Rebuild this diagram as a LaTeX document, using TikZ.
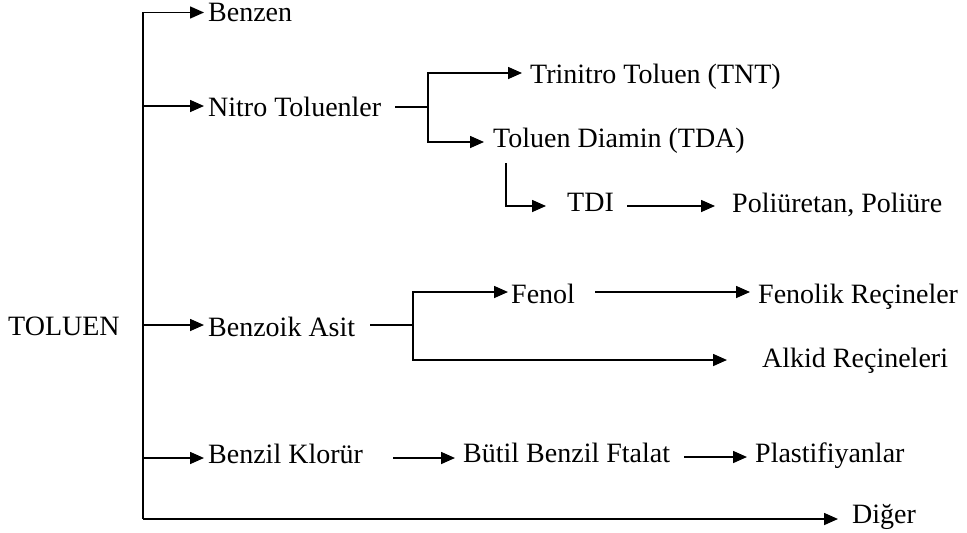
\documentclass[tikz,border=0pt]{standalone}
\usepackage{fontspec}
\setmainfont{Liberation Serif}
\usetikzlibrary{arrows.meta}
\begin{document}
\begin{tikzpicture}[x=1pt,y=-1pt,
  lbl/.style={anchor=base west, inner sep=0pt, font=\fontsize{28}{32}\selectfont},
  conn/.style={line width=1.6pt, black},
  arr/.style={conn, -{Triangle[length=14pt,width=12pt]}}]
\useasboundingbox (0,0) rectangle (967,533);

% labels
\node[lbl] (toluen)  at (8,335)   {TOLUEN};
\node[lbl] (benzen)  at (208,21)  {Benzen};
\node[lbl] (nitro)   at (208,116) {Nitro Toluenler};
\node[lbl] (tnt)     at (530,83)  {Trinitro Toluen (TNT)};
\node[lbl] (tda)     at (493,147) {Toluen Diamin (TDA)};
\node[lbl] (tdi)     at (567,211) {TDI};
\node[lbl] (poli)    at (732,212) {Poliüretan, Poliüre};
\node[lbl] (benzoik) at (208,336) {Benzoik Asit};
\node[lbl] (fenol)   at (511,303) {Fenol};
\node[lbl] (fenolik) at (758,303) {Fenolik Reçineler};
\node[lbl] (alkid)   at (762,367) {Alkid Reçineleri};
\node[lbl] (benzil)  at (208,463) {Benzil Klorür};
\node[lbl] (butil)   at (463,462) {Bütil Benzil Ftalat};
\node[lbl] (plast)   at (755,462) {Plastifiyanlar};
\node[lbl] (diger)   at (852,523) {Diğer};

% junctions
\coordinate (trunkTop) at (143,12.5);
\coordinate (trunkBot) at (143,519);
\coordinate (nitroSplit) at (428,107);
\coordinate (benzSplit) at (413,325);

% main trunk from TOLUEN
\draw[arr] (trunkBot) -- (trunkTop) -- (204,12.5);
\draw[arr] (trunkBot) -- (838,519);
\draw[arr] (trunkTop |- 0,106) -- (204,106);
\draw[arr] (trunkTop |- 0,325) -- (204,325);
\draw[arr] (trunkTop |- 0,458) -- (204,458);

% nitro toluenler branch
\draw[conn] (395,107) -- (nitroSplit);
\draw[arr] (nitroSplit) |- (522,73);
\draw[arr] (nitroSplit) |- (484,142);
\draw[arr] (506,163) |- (546,206);
\draw[arr] (627,206) -- (715,206);

% benzoik asit branch
\draw[conn] (370,325) -- (benzSplit);
\draw[arr] (benzSplit) |- (508,292);
\draw[arr] (benzSplit) |- (727,360);
\draw[arr] (595,292) -- (750,292);

% benzil klorur branch
\draw[arr] (393,458) -- (455,458);
\draw[arr] (684,457) -- (747,457);
\end{tikzpicture}
\end{document}
